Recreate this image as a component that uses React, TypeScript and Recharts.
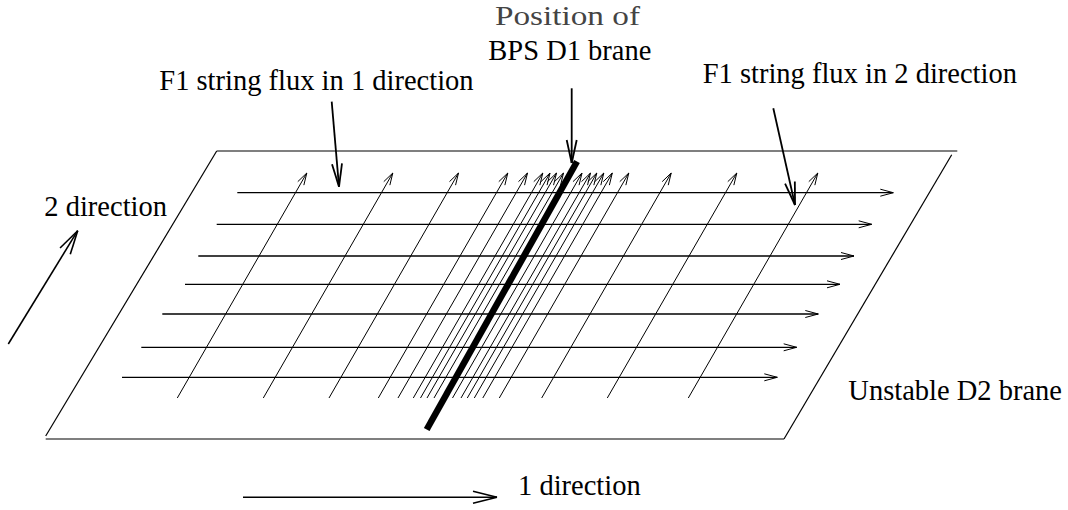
import { ScatterChart, XAxis, YAxis, ReferenceLine, Scatter } from "recharts";

const W = 1068;
const H = 510;
const FONT = "'Liberation Serif', 'Times New Roman', Tinos, 'DejaVu Serif', serif";

// outline of the unstable D2 brane sheet: [x1, y1, x2, y2]
const sheetEdges: number[][] = [
  [216.7, 151, 957.3, 151],
  [951.7, 154.7, 784, 439],
  [45.7, 439, 784, 439],
  [216.7, 151, 45.7, 436],
];

// F1 flux in the 1 direction (horizontal arrows)
const rowY = [192.7, 224.3, 256, 284.3, 314, 347.3, 377.3];
const rowStart = [237.3, 216.7, 198.3, 185, 162.3, 141.3, 122];
const rowEnd = [893.3, 871.7, 854, 840, 818.3, 796.7, 777.3];

// F1 flux in the 2 direction (slanted arrows), foot x of each line
const colFoot = [
  177.3, 263.3, 329, 378.3, 398, 413.3, 420.5, 427, 434, 452.5, 461, 467.3,
  474.3, 482.8, 499.3, 541.7, 607.3, 688.3,
];
const colFootY = 398;
const colTipY = 173;
const colShift = 129.5;

// BPS D1 brane
const brane = [577, 161.5, 426.7, 429.5];

// pointer arrows from the captions: [x1, y1, tipX, tipY]
const pointers: number[][] = [
  [331.7, 101.7, 339, 186.7],
  [571.7, 88.3, 571.7, 163],
  [773.3, 108.3, 795, 205],
];

// axis direction arrows
const dirArrows: number[][] = [
  [8.3, 344, 77.7, 230.7],
  [243, 497.3, 497, 497.3],
];

// captions: text, left x, baseline y
const captions = [
  { text: "F1 string flux in 1 direction", x: 159.3, y: 90 },
  { text: "BPS D1 brane", x: 488.3, y: 60 },
  { text: "F1 string flux in 2 direction", x: 702.7, y: 82.7 },
  { text: "2 direction", x: 44.3, y: 216 },
  { text: "Unstable D2 brane", x: 848.3, y: 400 },
  { text: "1 direction", x: 518, y: 495 },
];
const titleCaption = [{ text: "Position of", x: 495, y: 24.5 }];

function barbs(s: number[], len: number, half: number): number[][] {
  const [x1, y1, x2, y2] = s;
  const d = Math.hypot(x2 - x1, y2 - y1);
  const ux = (x2 - x1) / d;
  const uy = (y2 - y1) / d;
  const bx = x2 - ux * len;
  const by = y2 - uy * len;
  return [
    [bx - uy * half, by + ux * half, x2, y2],
    [bx + uy * half, by - ux * half, x2, y2],
  ];
}

function lines(segs: number[][], key: string, width: number) {
  return segs.map((s, i) => (
    <ReferenceLine
      key={`${key}-${i}`}
      segment={[
        { x: s[0], y: s[1] },
        { x: s[2], y: s[3] },
      ]}
      stroke="#000"
      strokeWidth={width}
      ifOverflow="visible"
    />
  ));
}

const rows = rowY.map((y, i) => [rowStart[i], y, rowEnd[i], y]);
const cols = colFoot.map((x) => [x, colFootY, x + colShift, colTipY]);

const renderCaption = (fill: string, size: number, textLength?: number) => (p: any) => (
  <text
    x={p.cx}
    y={p.cy}
    style={{ fontFamily: FONT, fontSize: size, fill }}
    textLength={textLength}
    lengthAdjust={textLength ? "spacingAndGlyphs" : undefined}
  >
    {p.payload.text}
  </text>
);

export default function App() {
  return (
    <div style={{ position: "absolute", left: 0, top: 0, width: W, height: H, background: "#fff" }}>
      <ScatterChart width={W} height={H} margin={{ top: 0, right: 0, bottom: 0, left: 0 }}>
        <XAxis type="number" dataKey="x" domain={[0, W]} allowDataOverflow hide />
        <YAxis type="number" dataKey="y" domain={[0, H]} allowDataOverflow reversed hide />

        {lines(sheetEdges, "sheet", 1.2)}
        {lines(rows, "row", 1.3)}
        {lines(rows.flatMap((s) => barbs(s, 13, 3.5)), "rowhead", 1)}
        {lines(cols, "col", 1)}
        {lines(cols.flatMap((s) => barbs(s, 12, 3.5)), "colhead", 1)}
        {lines([brane], "brane", 6.5)}
        {lines(pointers, "ptr", 1.8)}
        {lines(pointers.flatMap((s) => barbs(s, 23, 5)), "ptrhead", 1.8)}
        {lines(dirArrows, "dir", 1.6)}
        {lines(dirArrows.flatMap((s) => barbs(s, 24, 6)), "dirhead", 1.6)}

        <Scatter data={captions} isAnimationActive={false} shape={renderCaption("#000", 28.5)} />
        <Scatter data={titleCaption} isAnimationActive={false} shape={renderCaption("#444", 27, 145)} />
      </ScatterChart>
    </div>
  );
}
